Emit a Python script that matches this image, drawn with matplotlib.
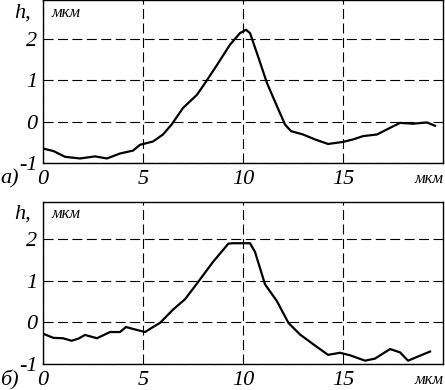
import matplotlib
matplotlib.use("Agg")
import matplotlib.pyplot as plt

# profile a)
xa = [0.0, 0.52, 1.1, 1.85, 2.6, 3.2, 3.85, 4.5, 4.85, 5.5, 6.0, 6.43, 7.0, 7.7,
      8.1, 8.7, 9.35, 9.85, 10.15, 10.35, 10.7, 11.2, 11.7, 12.1, 12.4, 13.0,
      13.6, 14.25, 15.0, 15.5, 16.0, 16.7, 17.35, 17.85, 18.5, 19.2, 19.6]
ha = [-0.65, -0.71, -0.85, -0.89, -0.84, -0.89, -0.77, -0.70, -0.56, -0.48,
      -0.31, -0.07, 0.33, 0.65, 0.93, 1.37, 1.86, 2.14, 2.22, 2.14, 1.65, 0.93,
      0.37, -0.07, -0.23, -0.31, -0.43, -0.54, -0.49, -0.43, -0.35, -0.31,
      -0.15, -0.03, -0.05, -0.02, -0.10]

# profile б)
xb = [0.0, 0.52, 1.0, 1.43, 1.77, 2.1, 2.7, 3.35, 3.85, 4.15, 4.7, 5.1, 5.43,
      5.85, 6.5, 7.1, 7.7, 8.5, 9.27, 9.5, 10.35, 10.6, 11.1, 11.7, 12.27,
      12.85, 13.5, 14.25, 14.85, 15.35, 16.1, 16.6, 17.35, 17.85, 18.25,
      18.85, 19.35]
hb = [-0.27, -0.37, -0.38, -0.44, -0.39, -0.30, -0.38, -0.23, -0.23, -0.11,
      -0.18, -0.23, -0.13, -0.01, 0.31, 0.56, 0.94, 1.46, 1.90, 1.91, 1.91,
      1.70, 0.92, 0.51, -0.01, -0.29, -0.52, -0.78, -0.73, -0.79, -0.92,
      -0.87, -0.64, -0.72, -0.92, -0.80, -0.70]

xticks = [0, 5, 10, 15]
yticks = [-1, 0, 1, 2]

plt.rcParams['font.family'] = ['Liberation Serif', 'DejaVu Serif']
plt.rcParams['font.style'] = 'italic'

fig = plt.figure(figsize=(4.45, 3.9), dpi=100)

panels = [
    ([0.0966, 0.582, 0.899, 0.417], xa, ha, 2.93, 'а)'),
    ([0.0966, 0.0667, 0.899, 0.415], xb, hb, 2.9, 'б)'),
]

for rect, x, h, ytop, tag in panels:
    ax = fig.add_axes(rect)
    ax.plot(x, h, color='black', lw=1.6, solid_joinstyle='round')
    ax.set_xlim(0, 20)
    ax.set_ylim(-1, ytop)
    ax.set_xticks(xticks)
    ax.set_yticks(yticks)
    ax.set_yticklabels(['-1', '0', '1', '2'])
    ax.tick_params(length=0, labelsize=16, pad=4)
    ax.tick_params(axis='x', pad=5)
    ax.grid(True, color='black', lw=0.8, linestyle=(0, (9, 4)))
    for sp in ax.spines.values():
        sp.set_linewidth(1.0)
    # axis captions
    ax.text(-0.03, 1 - 0.075, 'h,', transform=ax.transAxes, ha='right',
            va='center', fontsize=16)
    ax.text(0.02, 1 - 0.075, 'мкм', transform=ax.transAxes, ha='left',
            va='center', fontsize=12)
    ax.text(1.0, -0.1, 'мкм', transform=ax.transAxes, ha='right',
            va='center', fontsize=12)
    ax.text(-0.107, -0.1, tag, transform=ax.transAxes, ha='left',
            va='center', fontsize=16)

fig.savefig('out.png', dpi=100)
